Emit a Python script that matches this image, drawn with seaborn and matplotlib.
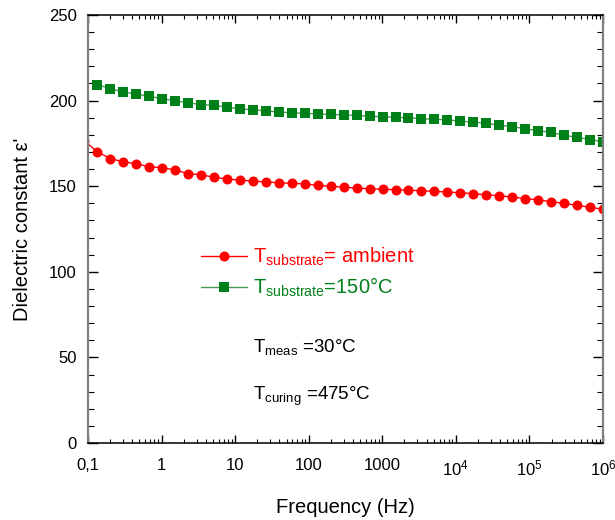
import matplotlib
matplotlib.use("Agg")
import matplotlib.pyplot as plt
import numpy as np
import pandas as pd
import seaborn as sns
from matplotlib.ticker import FixedLocator, MultipleLocator, FuncFormatter, NullFormatter

# ---- data ----
freq = [0.1337, 0.2006, 0.3010, 0.4516, 0.6776, 1.017, 1.526, 2.289, 3.437, 5.157,
        7.737, 11.61, 17.42, 26.15, 39.24, 58.88, 88.35, 132.6, 199.0, 298.5,
        448.0, 672.2, 1009, 1514, 2271, 3408, 5114, 7674, 11515, 17280,
        25930, 38910, 58390, 87610, 131500, 197300, 296000, 444200, 666600, 1000000]

freq_ambient = [0.0891] + freq
eps_ambient = [176.4,
               170.2, 166.1, 164.3, 163.1, 161.4, 160.8, 159.5, 157.3, 156.7, 155.2,
               154.2, 153.6, 153.0, 152.5, 152.0, 151.7, 151.3, 150.5, 149.9, 149.5,
               148.9, 148.5, 148.2, 148.0, 147.6, 147.4, 147.0, 146.6, 146.2, 145.6,
               145.0, 144.4, 143.7, 142.7, 142.1, 140.9, 140.0, 138.8, 137.7, 136.5]

eps_150 = [209.3, 207.0, 205.0, 203.9, 202.5, 201.1, 199.9, 198.8, 197.6, 197.3,
           196.1, 195.3, 194.5, 194.1, 193.3, 192.9, 192.6, 192.2, 192.0, 191.6,
           191.4, 190.8, 190.6, 190.2, 190.0, 189.4, 189.1, 188.8, 187.9, 187.5,
           186.7, 185.6, 184.8, 183.6, 182.4, 181.5, 179.7, 178.6, 177.2, 176.0]

label_ambient = r"T$_{\mathrm{substrate}}$= ambient"
label_150 = r"T$_{\mathrm{substrate}}$=150°C"

xtick_values = [0.1, 1, 10, 100, 1000, 1e4, 1e5, 1e6]
xtick_labels = ["0,1", "1", "10", "100", "1000",
                r"$\mathregular{10^{4}}$", r"$\mathregular{10^{5}}$", r"$\mathregular{10^{6}}$"]
ytick_values = [0, 50, 100, 150, 200, 250]

RED = "#ff0000"
GREEN = "#008018"

# ---- style ----
sns.set_theme(style="ticks")
plt.rcParams["font.family"] = ["Liberation Sans", "DejaVu Sans"]
plt.rcParams["mathtext.fontset"] = "custom"
plt.rcParams["mathtext.rm"] = "Liberation Sans"
plt.rcParams["mathtext.it"] = "Liberation Sans:italic"
plt.rcParams["mathtext.bf"] = "Liberation Sans:bold"
plt.rcParams["text.color"] = "black"
plt.rcParams["axes.labelcolor"] = "black"
plt.rcParams["xtick.color"] = "black"
plt.rcParams["ytick.color"] = "black"

df_a = pd.DataFrame({"f": freq_ambient, "eps": eps_ambient})
df_b = pd.DataFrame({"f": freq, "eps": eps_150})

fig = plt.figure(figsize=(6.15, 5.2), dpi=100)
ax = fig.add_axes([88 / 615, 77 / 520, 515 / 615, 428 / 520])

sns.lineplot(data=df_a, x="f", y="eps", ax=ax, color=RED, lw=1.0,
             marker="o", markersize=7.2, markeredgewidth=0, markerfacecolor=RED,
             label=label_ambient, sort=False)
sns.lineplot(data=df_b, x="f", y="eps", ax=ax, color="#4a9a50", lw=1.0,
             marker="s", markersize=7.2, markeredgewidth=0, markerfacecolor=GREEN,
             label=label_150, sort=False)

ax.set_xscale("log")
ax.set_xlim(0.1, 1e6)
ax.set_ylim(0, 250)

ax.xaxis.set_major_locator(FixedLocator(xtick_values))
ax.xaxis.set_major_formatter(FuncFormatter(lambda v, p: xtick_labels[
    min(range(len(xtick_values)), key=lambda i: abs(np.log10(xtick_values[i]) - np.log10(v)))]))
minors = [m * 10.0 ** e for e in range(-1, 6) for m in range(2, 10)]
ax.xaxis.set_minor_locator(FixedLocator(minors))
ax.xaxis.set_minor_formatter(NullFormatter())
ax.yaxis.set_major_locator(FixedLocator(ytick_values))
ax.yaxis.set_minor_locator(MultipleLocator(10))

ax.tick_params(which="both", direction="in", top=True, right=True,
               labelsize=12, colors="black", labelcolor="black")
ax.tick_params(axis="x", which="major", length=6, width=1, pad=11)
ax.tick_params(axis="x", which="minor", length=3, width=0.8)
ax.tick_params(axis="y", which="major", length=7, width=1, pad=8)
ax.tick_params(axis="y", which="minor", length=4, width=0.8)

for s in ["left", "right"]:
    ax.spines[s].set_color("#808080")
    ax.spines[s].set_linewidth(1.6)
for s in ["top", "bottom"]:
    ax.spines[s].set_color("black")
    ax.spines[s].set_linewidth(1.1)

ax.set_xlabel("Frequency (Hz)", fontsize=14.5, labelpad=14, color="black")
ax.set_ylabel("Dielectric constant ε'", fontsize=14.5, labelpad=12, color="black")

leg = ax.legend(loc="center left", bbox_to_anchor=(0.219, 0.398), frameon=False,
                fontsize=14.5, handlelength=2.3, handletextpad=0.3,
                borderpad=0, borderaxespad=0, labelspacing=0.4)
for txt, col in zip(leg.get_texts(), [RED, GREEN]):
    txt.set_color(col)

ax.text(0.32, 0.2126, r"T$_{\mathrm{meas}}$ =30°C", transform=ax.transAxes,
        fontsize=13.5, va="baseline", ha="left", color="black")
ax.text(0.32, 0.1005, r"T$_{\mathrm{curing}}$ =475°C", transform=ax.transAxes,
        fontsize=13.5, va="baseline", ha="left", color="black")

fig.savefig("out.png", dpi=100)
